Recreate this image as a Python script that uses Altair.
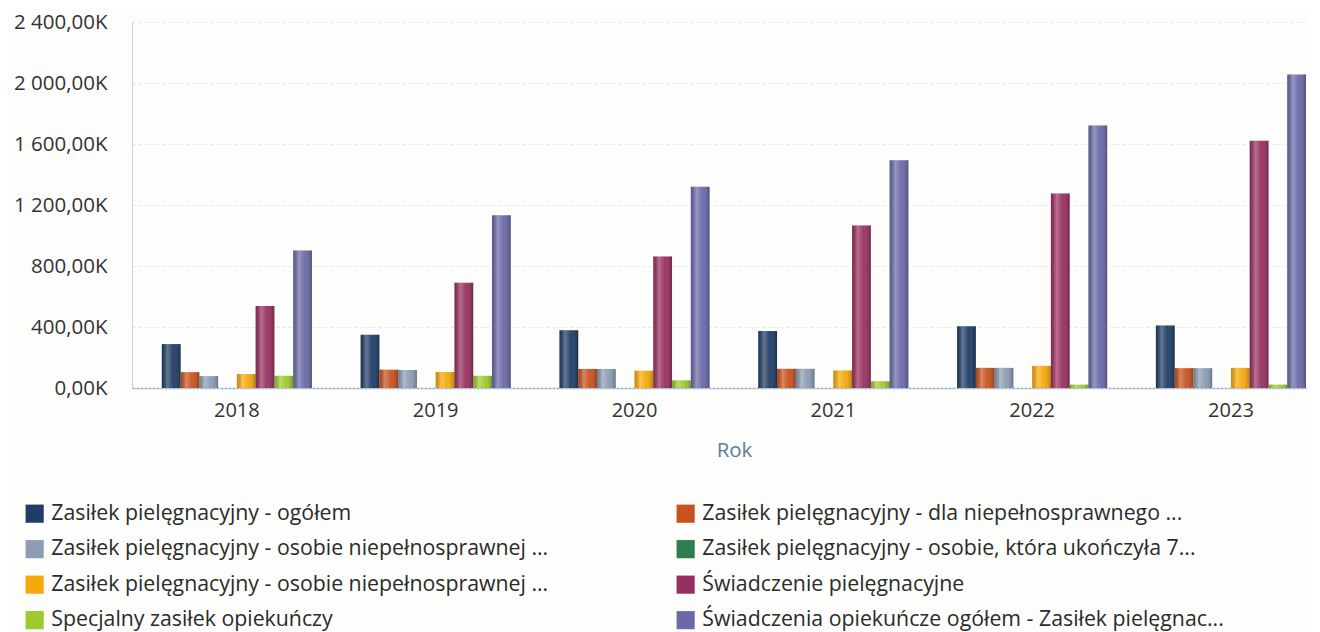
import altair as alt
import pandas as pd

years = ["2018", "2019", "2020", "2021", "2022", "2023"]

series = [
    "Zasiłek pielęgnacyjny - ogółem",
    "Zasiłek pielęgnacyjny - dla niepełnosprawnego ...",
    "Zasiłek pielęgnacyjny - osobie niepełnosprawnej ...",
    "Zasiłek pielęgnacyjny - osobie, która ukończyła 7...",
    "Zasiłek pielęgnacyjny -  osobie niepełnosprawnej ...",
    "Świadczenie pielęgnacyjne",
    "Specjalny zasiłek opiekuńczy",
    "Świadczenia opiekuńcze ogółem - Zasiłek pielęgnac...",
]

colors = ["#1f3d66", "#c9521f", "#8b9cb3", "#2e7d4f",
          "#f6a90c", "#98305f", "#9bcb2f", "#6a6aa8"]

# legend is laid out column by column: this is the order shown in the two columns
legend_order = [0, 2, 4, 6, 1, 3, 5, 7]

# values in thousands (K)
v_ogolem = [288, 350, 378, 373, 405, 410]
v_dla_niepeln = [104, 120, 125, 126, 132, 130]
v_osobie_niepeln = [78, 118, 125, 126, 132, 130]
v_ukonczyla_75 = [0, 0, 0, 0, 0, 0]
v_osobie_niepeln_2 = [92, 105, 113, 115, 145, 132]
v_swiadczenie = [538, 690, 863, 1065, 1275, 1622]
v_specjalny = [80, 80, 50, 44, 22, 22]
v_swiadczenia_ogolem = [902, 1133, 1320, 1493, 1721, 2055]

all_values = [v_ogolem, v_dla_niepeln, v_osobie_niepeln, v_ukonczyla_75,
              v_osobie_niepeln_2, v_swiadczenie, v_specjalny, v_swiadczenia_ogolem]

y_ticks = [0, 400, 800, 1200, 1600, 2000, 2400]

rows = []
for s, vals in zip(series, all_values):
    for yr, v in zip(years, vals):
        rows.append({"Rok": yr, "Seria": s, "Wartosc": v})
df = pd.DataFrame(rows)

legend_domain = [series[i] for i in legend_order]
legend_range = [colors[i] for i in legend_order]

FONT = "Open Sans"

x_enc = alt.X(
    "Rok:N", sort=years, title="Rok",
    scale=alt.Scale(paddingInner=0.245, paddingOuter=0.075, align=1),
    axis=alt.Axis(labelAngle=0, labelFontSize=20, labelColor="#333333", labelFont=FONT,
                  labelPadding=12, ticks=False, domainColor="#9fb3c8", domainWidth=1.5,
                  domainDash=[3, 1], titleFont=FONT, titleFontSize=20.5, titleFontWeight="normal",
                  titleColor="#5b7b9c", titlePadding=20, titleX=602, grid=False),
)
xo_enc = alt.XOffset("Seria:N", sort=series, scale=alt.Scale(paddingInner=0, paddingOuter=0))
y_enc = alt.Y(
    "Wartosc:Q",
    scale=alt.Scale(domain=[0, 2400], nice=False),
    axis=alt.Axis(values=y_ticks, title=None, ticks=False, labelFontSize=20.5, labelFont=FONT,
                  labelColor="#333333", labelPadding=25, domainColor="#c3d1df",
                  gridColor="#e3e7ec", gridDash=[3, 3], gridWidth=1,
                  labelExpr="replace(replace(format(datum.value, ',.2f'), ',', ' '), '.', ',') + 'K'"),
)

bars = alt.Chart(df).mark_bar().encode(
    x=x_enc, xOffset=xo_enc, y=y_enc,
    color=alt.Color(
        "Seria:N",
        scale=alt.Scale(domain=legend_domain, range=legend_range),
        legend=alt.Legend(
            title=None, orient="none", legendX=-108, legendY=481, columns=2,
            symbolType="square", symbolSize=330, symbolStrokeWidth=0, symbolOpacity=1,
            labelFontSize=21.3, labelFont=FONT, labelColor="#2b2b2b", labelLimit=800,
            rowPadding=13.5, columnPadding=102, gridAlign="all", labelOffset=6,
        ),
    ),
)

shine = alt.Chart(df).mark_bar(
    color=alt.Gradient(
        gradient="linear", x1=0, x2=1, y1=0, y2=0,
        stops=[
            alt.GradientStop(offset=0, color="rgba(0,0,0,0.18)"),
            alt.GradientStop(offset=0.3, color="rgba(255,255,255,0.30)"),
            alt.GradientStop(offset=0.6, color="rgba(255,255,255,0.05)"),
            alt.GradientStop(offset=1, color="rgba(0,0,0,0.25)"),
        ],
    )
).encode(x=x_enc, xOffset=xo_enc, y=y_enc)

chart = (bars + shine).properties(
    width=1174, height=366, background="#fdfdfb",
    padding={"left": 5, "top": 4, "right": 5, "bottom": 5},
).configure_view(stroke=None)

chart.save("out.html", embed_options={"renderer": "svg", "actions": False})
